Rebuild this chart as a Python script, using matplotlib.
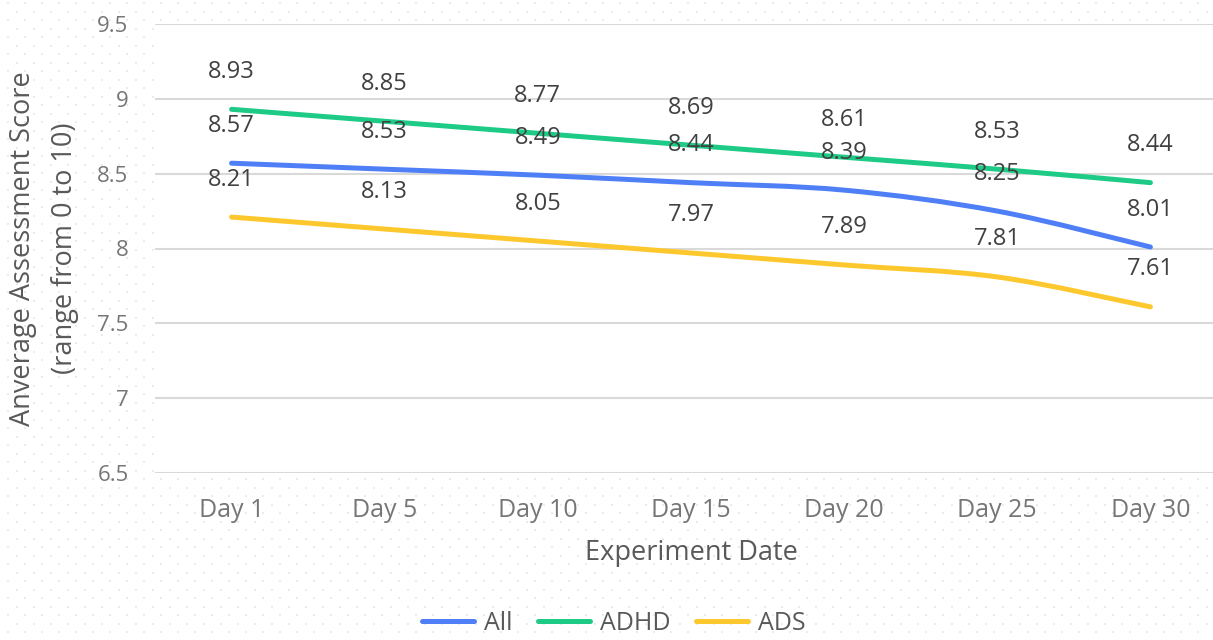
import numpy as np
import matplotlib.pyplot as plt
from matplotlib.path import Path
from matplotlib.patches import PathPatch
from matplotlib.lines import Line2D

days = ["Day 1", "Day 5", "Day 10", "Day 15", "Day 20", "Day 25", "Day 30"]
all_scores = [8.57, 8.53, 8.49, 8.44, 8.39, 8.25, 8.01]
adhd_scores = [8.93, 8.85, 8.77, 8.69, 8.61, 8.53, 8.44]
ads_scores = [8.21, 8.13, 8.05, 7.97, 7.89, 7.81, 7.61]
y_ticks = [6.5, 7, 7.5, 8, 8.5, 9, 9.5]

series = [
    ("All", all_scores, "#4f7ff7"),
    ("ADHD", adhd_scores, "#1ecb86"),
    ("ADS", ads_scores, "#fdc82e"),
]

W, H = 1213, 640


def smooth_path(xs, ys):
    # catmull-rom style cubic bezier through the points
    pts = np.column_stack([xs, ys]).astype(float)
    verts = [pts[0]]
    codes = [Path.MOVETO]
    n = len(pts)
    for i in range(n - 1):
        p0 = pts[i - 1] if i > 0 else pts[i]
        p1 = pts[i]
        p2 = pts[i + 1]
        p3 = pts[i + 2] if i + 2 < n else pts[i + 1]
        c1 = p1 + (p2 - p0) / 6.0
        c2 = p2 - (p3 - p1) / 6.0
        verts += [c1, c2, p2]
        codes += [Path.CURVE4] * 3
    return Path(verts, codes)


def main():
    plt.rcParams['font.family'] = ['Open Sans', 'DejaVu Sans']
    fig = plt.figure(figsize=(W / 100, H / 100), dpi=100)
    fig.patch.set_facecolor("white")

    # dotted background
    bg = fig.add_axes([0, 0, 1, 1], zorder=-1)
    bg.set_xlim(0, W)
    bg.set_ylim(H, 0)
    bg.axis("off")
    gx, gy = [], []
    for r, yy in enumerate(np.arange(3, H, 8.5)):
        off = 0 if r % 2 == 0 else 8.5
        for xx in np.arange(8 + off, W, 17):
            gx.append(xx)
            gy.append(yy)
    bg.scatter(gx, gy, s=1.0, marker="s", color="#ebebeb", linewidths=0)

    ax = fig.add_axes([155 / W, 167 / H, 1072 / W, 449 / H])
    ax.set_facecolor("white")
    x = np.arange(len(days))

    for name, vals, color in series:
        patch = PathPatch(smooth_path(x, vals), facecolor="none", edgecolor=color,
                          lw=3.6, capstyle="round", zorder=3)
        ax.add_patch(patch)
        for xi, v in zip(x, vals):
            ax.annotate(f"{v:.2f}", (xi, v), xytext=(0, 27), textcoords="offset points",
                        ha="center", va="center", fontsize=17, color="#404040", zorder=4)

    ax.set_xlim(-0.5, len(days) - 0.5)
    ax.set_ylim(6.5, 9.5)
    ax.set_yticks(y_ticks)
    ax.set_yticklabels([f"{t:g}" for t in y_ticks])
    ax.set_xticks(x)
    ax.set_xticklabels(days)
    ax.tick_params(axis="both", length=0, labelcolor="#767676")
    ax.tick_params(axis="x", pad=18, labelsize=18)
    ax.tick_params(axis="y", pad=19, labelsize=16)
    ax.grid(axis="y", color="#d9d9d9", lw=1.5)
    ax.set_axisbelow(True)
    for s in ax.spines.values():
        s.set_visible(False)

    ax.set_xlabel("Experiment Date", fontsize=19.5, color="#595959")
    ax.xaxis.set_label_coords(0.5, -0.148)
    ax.set_ylabel("Anverage Assessment Score\n(range from 0 to 10)", fontsize=19.5,
                  color="#595959", linespacing=1.65)
    ax.yaxis.set_label_coords(-0.071, 0.5)

    handles = [Line2D([], [], color=c, lw=3.6, solid_capstyle="round") for _, _, c in series]
    fig.legend(handles, [n for n, _, _ in series], loc="center", bbox_to_anchor=(0.506, 17 / H),
               ncol=3, frameon=False, fontsize=18, labelcolor="#595959",
               handlelength=2.1, handletextpad=0.4, columnspacing=1.0)

    fig.savefig("out.png", dpi=100, facecolor="white")


if __name__ == '__main__':
    main()
